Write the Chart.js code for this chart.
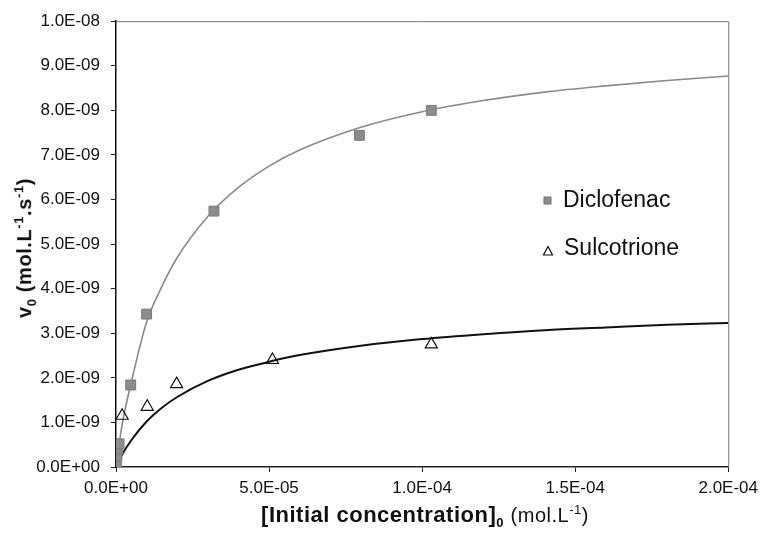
<!DOCTYPE html>
<html lang="en">
<head>
    <meta charset="UTF-8">
    <title>Initial rate vs initial concentration</title>
    <script src="https://cdn.jsdelivr.net/npm/chart.js"></script>
    <style>
        body {
            margin: 0;
            background: #fff;
            font-family: "Liberation Sans", Arial, sans-serif;
        }
        .wrap {
            position: relative;
            width: 764px;
            height: 540px;
        }
        .ytitle {
            position: absolute;
            left: 25px;
            top: 248px;
            transform: translate(-50%, -50%) rotate(-90deg);
            white-space: nowrap;
            font-weight: bold;
            font-size: 20px;
            letter-spacing: 0.6px;
            color: #111;
        }
        .ytitle sub, .ytitle sup {
            font-size: 13px;
        }
        .xtitle {
            position: absolute;
            left: 425px;
            top: 516px;
            transform: translate(-50%, -50%);
            white-space: nowrap;
            font-weight: bold;
            font-size: 22px;
            letter-spacing: 0.5px;
            color: #111;
        }
        .xtitle sub, .xtitle sup {
            font-size: 13px;
        }
        .xtitle .unit {
            font-weight: normal;
            font-size: 20px;
        }
        .legend {
            position: absolute;
            font-size: 23px;
            color: #111;
            white-space: nowrap;
        }
        .legend svg {
            position: absolute;
        }
    </style>
</head>
<body>
<div class="wrap">
    <canvas id="rateChart" width="764" height="540"></canvas>
    <div class="ytitle">v<sub>0</sub> (mol.L<sup>-1</sup>.s<sup>-1</sup>)</div>
    <div class="xtitle">[Initial concentration]<sub>0</sub> <span class="unit">(mol.L<sup>-1</sup>)</span></div>
    <div class="legend" style="left:563px; top:186px;">
        <svg width="10" height="10" style="left:-20px; top:10px;"><rect x="1" y="1" width="7" height="7" fill="#8c8c8c" stroke="#777" stroke-width="1"/></svg>
        Diclofenac
    </div>
    <div class="legend" style="left:564px; top:234px;">
        <svg width="12" height="12" style="left:-22px; top:11px;"><polygon points="6,1.5 10.5,10 1.5,10" fill="none" stroke="#111" stroke-width="1.2"/></svg>
        Sulcotrione
    </div>
</div>

<script>
    // measured points (mol/L and mol/L/s)
    const diclofenacConc = [1e-7, 3e-7, 6e-7, 1e-6, 4.8e-6, 1.0e-5, 3.2e-5, 7.95e-5, 1.03e-4];
    const diclofenacRate = [0.1e-9, 0.25e-9, 0.4e-9, 0.52e-9, 1.84e-9, 3.43e-9, 5.74e-9, 7.44e-9, 8.0e-9];

    const sulcotrioneConc = [2e-6, 1.02e-5, 1.98e-5, 5.11e-5, 1.03e-4];
    const sulcotrioneRate = [1.15e-9, 1.35e-9, 1.86e-9, 2.4e-9, 2.75e-9];

    // fitted curves
    const fitConc = [0, 0.2e-5, 0.5e-5, 1e-5, 1.5e-5, 2e-5, 3e-5, 4e-5, 5e-5, 6e-5, 8e-5,
                     1e-4, 1.2e-4, 1.4e-4, 1.6e-4, 1.8e-4, 2e-4];
    const diclofenacFit = [0, 0.95e-9, 1.9e-9, 3.25e-9, 4.05e-9, 4.7e-9, 5.62e-9, 6.27e-9, 6.75e-9,
                           7.11e-9, 7.62e-9, 7.97e-9, 8.22e-9, 8.41e-9, 8.55e-9, 8.67e-9, 8.77e-9];
    const sulcotrioneFit = [0, 0.28e-9, 0.6e-9, 1.02e-9, 1.33e-9, 1.57e-9, 1.93e-9, 2.18e-9, 2.36e-9,
                            2.51e-9, 2.72e-9, 2.87e-9, 2.98e-9, 3.07e-9, 3.13e-9, 3.19e-9, 3.23e-9];

    const xTicks = [0, 5e-5, 1e-4, 1.5e-4, 2e-4];
    const yTicks = [0, 1e-9, 2e-9, 3e-9, 4e-9, 5e-9, 6e-9, 7e-9, 8e-9, 9e-9, 1e-8];

    function pairs(xs, ys) {
        return xs.map((x, i) => ({ x: x, y: ys[i] }));
    }

    // Excel style: 5.0E-05
    function sci(v) {
        let parts = Number(v).toExponential(1).split("e");
        let n = parseInt(parts[1], 10);
        return parts[0] + "E" + (n < 0 ? "-" : "+") + String(Math.abs(n)).padStart(2, "0");
    }

    // top and right edges of the plot frame
    const frame = {
        id: "frame",
        beforeDatasetsDraw(chart) {
            const a = chart.chartArea;
            const ctx = chart.ctx;
            ctx.save();
            ctx.strokeStyle = "#777";
            ctx.lineWidth = 1;
            ctx.beginPath();
            ctx.moveTo(a.left, a.top + 0.5);
            ctx.lineTo(a.right + 0.5, a.top + 0.5);
            ctx.lineTo(a.right + 0.5, a.bottom);
            ctx.stroke();
            ctx.restore();
        }
    };

    const tickFont = { family: "'Liberation Sans', Arial, sans-serif", size: 17 };

    new Chart(document.getElementById("rateChart"), {
        type: "scatter",
        data: {
            datasets: [
                {
                    label: "Diclofenac",
                    data: pairs(diclofenacConc, diclofenacRate),
                    pointStyle: "rect",
                    pointRadius: 7,
                    backgroundColor: "#8c8c8c",
                    borderColor: "#7a7a7a",
                    borderWidth: 1
                },
                {
                    label: "Sulcotrione",
                    data: pairs(sulcotrioneConc, sulcotrioneRate),
                    pointStyle: "triangle",
                    pointRadius: 7,
                    backgroundColor: "rgba(255,255,255,0)",
                    borderColor: "#111",
                    borderWidth: 1.2
                },
                {
                    label: "Diclofenac fit",
                    data: pairs(fitConc, diclofenacFit),
                    showLine: true,
                    pointRadius: 0,
                    borderColor: "#8a8a8a",
                    borderWidth: 1.6,
                    cubicInterpolationMode: "monotone"
                },
                {
                    label: "Sulcotrione fit",
                    data: pairs(fitConc, sulcotrioneFit),
                    showLine: true,
                    pointRadius: 0,
                    borderColor: "#111",
                    borderWidth: 2,
                    cubicInterpolationMode: "monotone"
                }
            ]
        },
        options: {
            responsive: false,
            animation: false,
            layout: { padding: { top: 21, right: 35, left: 0, bottom: 0 } },
            plugins: {
                legend: { display: false },
                tooltip: { enabled: false }
            },
            scales: {
                x: {
                    type: "linear",
                    min: xTicks[0],
                    max: xTicks[xTicks.length - 1],
                    afterBuildTicks: s => { s.ticks = xTicks.map(v => ({ value: v })); },
                    afterFit: s => { s.height = 73; },
                    border: { color: "#222", width: 1.5 },
                    grid: { drawOnChartArea: false, tickLength: 5, color: "#222" },
                    ticks: { font: tickFont, color: "#111", padding: 6, maxRotation: 0, callback: v => sci(v) }
                },
                y: {
                    min: yTicks[0],
                    max: yTicks[yTicks.length - 1],
                    afterBuildTicks: s => { s.ticks = yTicks.map(v => ({ value: v })); },
                    afterFit: s => { s.width = 116; },
                    border: { color: "#111", width: 1.5 },
                    grid: { drawOnChartArea: false, tickLength: 5, color: "#222" },
                    ticks: { font: tickFont, color: "#111", padding: 11, callback: v => sci(v) }
                }
            }
        },
        plugins: [frame]
    });
</script>
</body>
</html>
